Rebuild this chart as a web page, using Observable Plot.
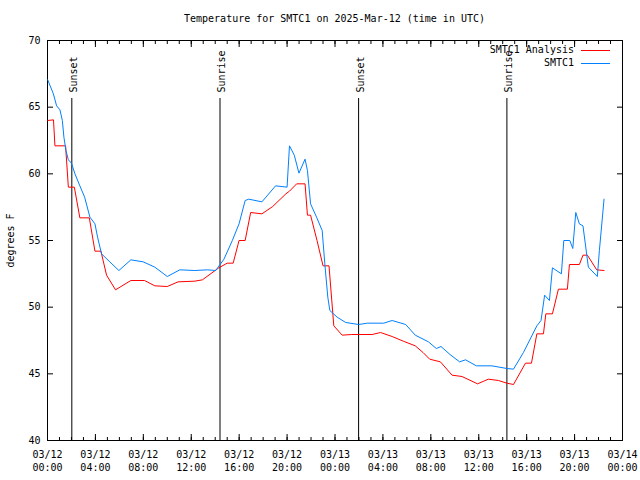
<!DOCTYPE html>
<html>
<head>
<meta charset="utf-8">
<script src="https://cdn.jsdelivr.net/npm/d3@7"></script>
<script src="https://cdn.jsdelivr.net/npm/@observablehq/plot@0.6"></script>
<style>
  body { margin: 0; background: #fff; font-family: "DejaVu Sans Mono", monospace; }
  #wrap { position: relative; width: 640px; height: 480px; background: #fff; }
  #title { box-sizing: border-box; height: 30px; padding: 13px 18px 0 47px; font-size: 10px; line-height: 12px; text-align: center; color: #000; }
  .leg-text { position: absolute; right: 66px; font-size: 10px; line-height: 12px; text-align: right; color: #000; white-space: pre; }
  .leg-line { position: absolute; left: 581px; width: 29px; height: 0; }
</style>
</head>
<body>
<div id="wrap">
  <div id="title">Temperature for SMTC1 on 2025-Mar-12 (time in UTC)</div>
  <div id="chart"></div>
  <div class="leg-text" style="top:44px">SMTC1 Analysis</div>
  <div class="leg-line" style="top:50px;border-top:1px solid #ff0000"></div>
  <div class="leg-text" style="top:57px">SMTC1</div>
  <div class="leg-line" style="top:63px;border-top:1px solid #0080ff"></div>
</div>
<script>
// ---- data (hours since 2025-03-12 00:00 UTC, degrees F) ----
const startTime = "2025-03-12T00:00:00Z";
const endTime = "2025-03-14T00:00:00Z";

const obsHours = [0.02, 0.49, 0.76, 1.04, 1.24, 1.37, 1.54, 1.74, 2.0, 2.29, 2.7, 3.1, 3.54, 3.96, 4.18, 4.51, 5.2, 5.96, 6.96, 7.99, 8.96, 10.0, 11.04, 12.3, 13.35, 14.04, 14.73, 15.43, 15.99, 16.5, 16.8, 17.9, 19.04, 20.0, 20.2, 20.6, 20.99, 21.5, 21.7, 21.96, 22.46, 22.93, 23.15, 23.4, 23.57, 24.18, 24.9, 25.98, 26.7, 28.07, 28.77, 29.9, 30.7, 31.8, 32.46, 32.85, 33.6, 34.4, 34.9, 35.8, 37.1, 38.35, 38.9, 39.73, 40.85, 41.2, 41.5, 41.9, 42.15, 42.9, 43.1, 43.6, 43.85, 44.1, 44.4, 44.7, 45.15, 45.9, 46.07, 46.46];
const obsTemps = [67.05, 66.0, 65.1, 64.8, 64.0, 62.75, 61.75, 61.05, 60.8, 60.0, 59.1, 58.25, 56.75, 56.25, 55.25, 54.0, 53.4, 52.75, 53.55, 53.4, 53.0, 52.3, 52.8, 52.75, 52.8, 52.75, 53.6, 55.0, 56.25, 58.0, 58.1, 57.9, 59.1, 59.0, 62.1, 61.4, 60.05, 61.1, 60.25, 57.75, 56.75, 55.75, 53.25, 50.75, 49.75, 49.25, 48.85, 48.7, 48.8, 48.8, 49.0, 48.7, 47.9, 47.4, 46.9, 47.05, 46.45, 45.9, 46.05, 45.6, 45.6, 45.4, 45.35, 46.6, 48.6, 49.0, 50.9, 50.5, 52.95, 52.5, 55.0, 55.0, 54.4, 57.1, 56.25, 56.1, 53.0, 52.3, 54.25, 58.1];

const anaHours = [0.02, 0.5, 0.62, 1.51, 1.74, 2.24, 2.7, 3.49, 3.96, 4.46, 4.93, 5.68, 6.96, 8.1, 8.96, 10.0, 10.9, 12.3, 12.93, 14.3, 15.0, 15.5, 15.99, 16.5, 16.96, 17.9, 18.8, 19.9, 20.2, 20.8, 21.5, 21.7, 21.96, 22.5, 23.0, 23.5, 23.9, 24.6, 25.4, 27.1, 27.8, 28.77, 29.7, 30.7, 31.35, 31.9, 32.8, 33.77, 34.6, 35.9, 36.8, 37.65, 38.35, 38.9, 39.9, 40.4, 40.85, 41.4, 41.6, 42.15, 42.65, 43.4, 43.57, 44.4, 44.7, 45.07, 45.85, 46.46];
const anaTemps = [64.0, 64.05, 62.1, 62.1, 59.0, 59.0, 56.7, 56.7, 54.2, 54.2, 52.4, 51.3, 52.0, 52.0, 51.6, 51.55, 51.9, 51.95, 52.05, 52.95, 53.3, 53.3, 55.0, 55.0, 57.1, 57.0, 57.55, 58.5, 58.7, 59.25, 59.25, 56.9, 56.9, 55.0, 53.1, 53.1, 48.6, 47.9, 47.95, 47.95, 48.1, 47.8, 47.45, 47.1, 46.6, 46.1, 45.9, 44.9, 44.8, 44.25, 44.6, 44.5, 44.3, 44.2, 45.8, 45.8, 48.0, 48.0, 49.5, 49.5, 51.35, 51.35, 53.2, 53.2, 53.9, 53.9, 52.8, 52.75];

const sunHours = [2.03, 14.4, 25.97, 38.35];
const sunLabels = ["Sunset", "Sunrise", "Sunset", "Sunrise"];

const yTicks = [40, 45, 50, 55, 60, 65, 70];
const seriesNames = ["SMTC1 Analysis", "SMTC1"];
const seriesColors = ["#ff0000", "#0080ff"];

// ---- build tables ----
const t0 = new Date(startTime).getTime();
const toDate = h => new Date(t0 + h * 3600e3);
const obs = obsHours.map((h, i) => ({time: toDate(h), temp: obsTemps[i]}));
const ana = anaHours.map((h, i) => ({time: toDate(h), temp: anaTemps[i]}));
const sun = sunHours.map((h, i) => ({time: toDate(h), label: sunLabels[i]}));

const xStart = new Date(startTime), xEnd = new Date(endTime);
const hourTicks = d3.utcHour.range(xStart, new Date(xEnd.getTime() + 1));
const majorTicks = d3.utcHour.every(4).range(xStart, new Date(xEnd.getTime() + 1));
const fmtD = d3.utcFormat("%m/%d"), fmtT = d3.utcFormat("%H:%M");
const blank = () => "";

const chart = Plot.plot({
  width: 640,
  height: 450,
  marginTop: 10,
  marginBottom: 40,
  marginLeft: 47,
  marginRight: 18,
  style: {fontFamily: "DejaVu Sans Mono, monospace", fontSize: "10px", color: "black", background: "white", overflow: "visible"},
  x: {type: "utc", domain: [xStart, xEnd]},
  y: {domain: [40, 70]},
  marks: [
    Plot.frame({stroke: "black"}),
    Plot.axisX({ticks: hourTicks, anchor: "bottom", tickSize: -3, tickFormat: blank, label: null}),
    Plot.axisX({ticks: majorTicks, anchor: "bottom", tickSize: -6, tickPadding: 14, lineHeight: 1.33,
      tickFormat: d => fmtD(d) + "\n" + fmtT(d), label: null}),
    Plot.axisX({ticks: hourTicks, anchor: "top", tickSize: -3, tickFormat: blank, label: null}),
    Plot.axisX({ticks: majorTicks, anchor: "top", tickSize: -6, tickFormat: blank, label: null}),
    Plot.axisY({ticks: yTicks, anchor: "left", tickSize: -6, tickPadding: 13, tickFormat: d => String(d),
      label: "degrees F", labelAnchor: "center", labelArrow: "none", labelOffset: 41}),
    Plot.axisY({ticks: yTicks, anchor: "right", tickSize: -6, tickFormat: blank, label: null}),
    Plot.ruleX(sun, {x: "time", insetTop: 58, stroke: "black", strokeWidth: 1}),
    Plot.text(sun, {x: "time", text: "label", rotate: -90, frameAnchor: "top", textAnchor: "start", dy: 52, dx: -2, fill: "black"}),
    Plot.line(ana, {x: "time", y: "temp", stroke: seriesColors[0], strokeWidth: 1}),
    Plot.line(obs, {x: "time", y: "temp", stroke: seriesColors[1], strokeWidth: 1})
  ]
});
document.getElementById("chart").appendChild(chart);
</script>
</body>
</html>
